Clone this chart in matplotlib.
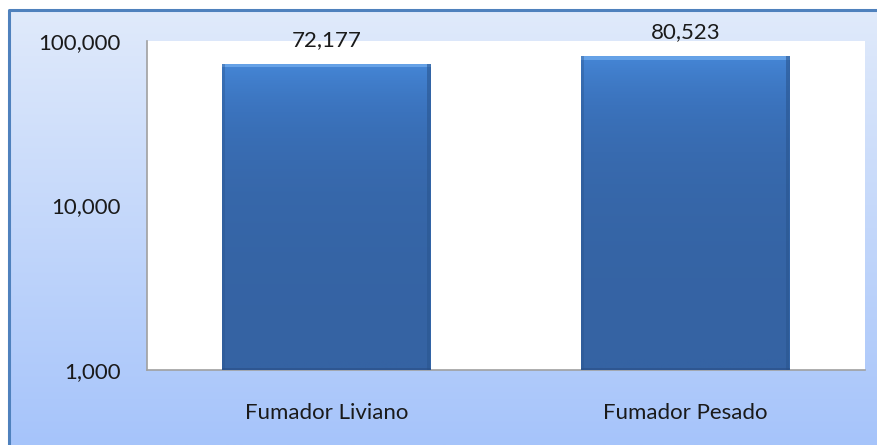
import numpy as np
import matplotlib
matplotlib.use("Agg")
import matplotlib.pyplot as plt
from matplotlib.patches import Rectangle
from matplotlib.colors import LinearSegmentedColormap
from matplotlib.ticker import FixedLocator, FuncFormatter, NullLocator

categories = ["Fumador Liviano", "Fumador Pesado"]
values = [72177, 80523]
ytick_values = [1000, 10000, 100000]

plt.rcParams['font.family'] = ['Lato', 'DejaVu Sans']

W, H = 878, 445
fig = plt.figure(figsize=(W / 100, H / 100), dpi=100)
fig.patch.set_facecolor("white")

# outer frame with vertical gradient
bg = fig.add_axes([0, 0, 1, 1], zorder=-10)
bg.set_axis_off()
grad = np.linspace(0, 1, 256).reshape(-1, 1)
bg_cmap = LinearSegmentedColormap.from_list("bg", ["#a6c4fa", "#e0eafb"])
fx0, fy0 = 9 / W, 0
fx1, fy1 = 1.0, 1 - 10 / H
bg.imshow(grad, aspect="auto", cmap=bg_cmap, origin="lower",
          extent=[fx0, fx1, fy0, fy1])
bg.set_xlim(0, 1)
bg.set_ylim(0, 1)
bg.plot([fx0, fx0, fx1], [fy0, fy1, fy1], color="#4f81bd", lw=2.2)

# plot area
left, right, top, bottom = 147, 865, 41, 370
ax = fig.add_axes([left / W, 1 - bottom / H, (right - left) / W, (bottom - top) / H])
ax.set_facecolor("white")
ax.set_yscale("log")
ax.set_ylim(1000, 100000)
ax.set_xlim(-0.5, 1.5)
x = np.arange(len(categories))
bar_w = 0.58

bars = ax.bar(x, values, width=bar_w, color="#3f7bc8", edgecolor="none", zorder=3)

bar_cmap = LinearSegmentedColormap.from_list("bar", ["#3563a3", "#3b73bd", "#4586d6"])
for b in bars:
    bx, by = b.get_x(), b.get_y()
    bw, bh = b.get_width(), b.get_height()
    # vertical gradient
    im = ax.imshow(np.linspace(0, 1, 256).reshape(-1, 1), aspect="auto", cmap=bar_cmap,
                   origin="lower", extent=[bx, bx + bw, 1000, by + bh], zorder=4)
    im.set_clip_path(b)
    # top bevel highlight
    ax.add_patch(Rectangle((bx, (by + bh) / 1.045), bw, (by + bh) - (by + bh) / 1.045,
                           facecolor="#6aa6ea", edgecolor="none", zorder=5, alpha=0.9))
    # side shading
    ax.add_patch(Rectangle((bx + bw * 0.985, 1000), bw * 0.015, (by + bh) - 1000,
                           facecolor="#2a5690", edgecolor="none", zorder=5, alpha=0.6))
    ax.add_patch(Rectangle((bx, 1000), bw * 0.012, (by + bh) - 1000,
                           facecolor="#2a5690", edgecolor="none", zorder=5, alpha=0.4))
    # bottom shade
    ax.add_patch(Rectangle((bx, 1000), bw, 1000 * 0.03,
                           facecolor="#2a4e85", edgecolor="none", zorder=5, alpha=0.6))

for xi, v in zip(x, values):
    ax.annotate(f"{v:,}", xy=(xi, v), xytext=(0, 10), textcoords="offset points",
                ha="center", va="bottom", fontsize=16, color="#1a1a1a",
                annotation_clip=False, zorder=6)

ax.yaxis.set_major_locator(FixedLocator(ytick_values))
ax.yaxis.set_minor_locator(NullLocator())
ax.yaxis.set_major_formatter(FuncFormatter(lambda v, p: f"{int(v):,}"))
ax.set_xticks(x)
ax.set_xticklabels(categories)
ax.tick_params(axis="y", length=0, pad=19, labelsize=16, labelcolor="#1a1a1a")
ax.tick_params(axis="x", length=0, pad=24, labelsize=16, labelcolor="#1a1a1a")
for s in ["top", "right"]:
    ax.spines[s].set_visible(False)
for s in ["left", "bottom"]:
    ax.spines[s].set_color("#a0a0a0")
    ax.spines[s].set_linewidth(1.2)

fig.savefig("out.png", dpi=100, facecolor=fig.get_facecolor())
